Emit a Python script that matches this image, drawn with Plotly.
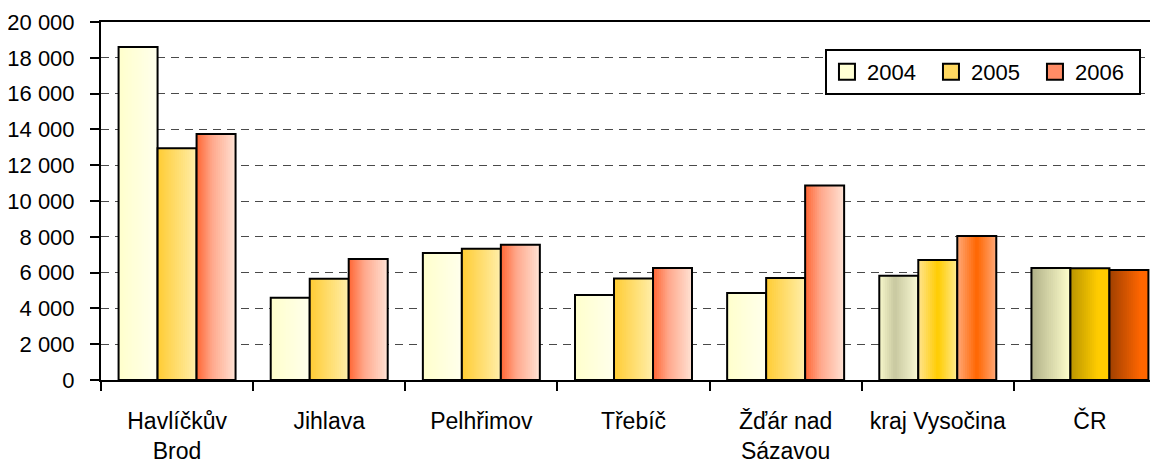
import plotly.graph_objects as go

categories = ["Havlíčkův<br>Brod", "Jihlava", "Pelhřimov", "Třebíč",
              "Žďár nad<br>Sázavou", "kraj Vysočina", "ČR"]
years = ["2004", "2005", "2006"]
v2004 = [18600, 4600, 7100, 4750, 4860, 5830, 6260]
v2005 = [12950, 5650, 7330, 5670, 5700, 6700, 6240]
v2006 = [13750, 6760, 7550, 6260, 10860, 8040, 6150]
values = [v2004, v2005, v2006]

y_ticks = list(range(0, 20001, 2000))

# gradient kind per category (style only)
kinds = ["normal"] * 5 + ["kraj", "cr"]
grads = {
    "2004": {"normal": [(0, "#FFFFCC"), (1, "#FFFFEC")],
             "kraj": [(0, "#F8F8CC"), (0.4, "#C8C8A0"), (1, "#FAFAD4")],
             "cr": [(0, "#B0B088"), (1, "#FFFFCC")]},
    "2005": {"normal": [(0, "#FFCC33"), (1, "#FFEEAA")],
             "kraj": [(0, "#FFE490"), (0.5, "#FFCC00"), (1, "#FFEA90")],
             "cr": [(0, "#B89400"), (0.7, "#FFCC00"), (1, "#FFCC00")]},
    "2006": {"normal": [(0, "#FF6633"), (0.4, "#FFA88C"), (1, "#FFE2D4")],
             "kraj": [(0, "#FFA878"), (0.5, "#FF6600"), (1, "#FFA878")],
             "cr": [(0, "#A04000"), (0.8, "#FF6600"), (1, "#FF6600")]},
}
legend_colors = {"2004": "#FFFFD4", "2005": "#FFD860", "2006": "#FF8C66"}


def hex2rgb(h):
    h = h.lstrip("#")
    return tuple(int(h[i:i + 2], 16) for i in (0, 2, 4))


def color_at(stops, t):
    for (t0, c0), (t1, c1) in zip(stops[:-1], stops[1:]):
        if t <= t1:
            f = 0 if t1 == t0 else (t - t0) / (t1 - t0)
            a, b = hex2rgb(c0), hex2rgb(c1)
            return "rgb(%d,%d,%d)" % tuple(round(a[i] + (b[i] - a[i]) * f) for i in range(3))
    return stops[-1][1]


FONT = "Liberation Sans, Arial, sans-serif"
FS = 23
bw = 0.2563
N = 20

fig = go.Figure()
for i, yr in enumerate(years):
    base = -1.5 * bw + i * bw
    for k in range(N):
        t = (k + 0.5) / N
        cols = [color_at(grads[yr][kd], t) for kd in kinds]
        fig.add_trace(go.Bar(
            x=categories, y=values[i], offset=base + k * bw / N, width=bw - k * bw / N,
            marker=dict(color=cols, line=dict(width=0)), showlegend=False,
            hoverinfo="skip"))
    fig.add_trace(go.Bar(
        x=categories, y=values[i], offset=base, width=bw, name=yr,
        marker=dict(color="rgba(0,0,0,0)", line=dict(color="black", width=2)),
        showlegend=False))

for yr in years:
    fig.add_trace(go.Scatter(
        x=[None], y=[None], mode="markers", name=yr,
        marker=dict(symbol="square", size=16, color=legend_colors[yr],
                    line=dict(color="black", width=2))))

fig.update_layout(
    width=1158, height=468,
    margin=dict(l=93, r=0, t=14, b=96),
    paper_bgcolor="white", plot_bgcolor="white",
    font=dict(family=FONT, size=FS, color="black"),
    separators=", ",
    bargap=0.23,
    legend=dict(orientation="h", x=0.9765, xanchor="right", y=0.9246, yanchor="top",
                bgcolor="white", bordercolor="black", borderwidth=2,
                font=dict(family=FONT, size=22), itemclick=False,
                itemwidth=30, entrywidth=59, entrywidthmode="pixels"),
)
fig.update_xaxes(
    type="category", range=[-0.5, 6.5], showline=True, linecolor="black", linewidth=2,
    mirror=True, ticks="outside", ticklen=9, tickwidth=2, tickcolor="black",
    tickson="boundaries", showgrid=False, ticklabelstandoff=19, tickangle=0,
    automargin=False, fixedrange=True)
fig.update_yaxes(
    range=[0, 20000], tickvals=y_ticks, tickformat=",d", showline=True,
    linecolor="black", linewidth=2, ticks="outside", ticklen=9, tickwidth=2,
    tickcolor="black", tickfont=dict(family=FONT, size=22),
    showgrid=True, gridcolor="#4a4a4a", gridwidth=1,
    griddash="8px,6px", zeroline=False, ticklabelstandoff=11, automargin=False,
    fixedrange=True)

fig.write_html("out.html")
